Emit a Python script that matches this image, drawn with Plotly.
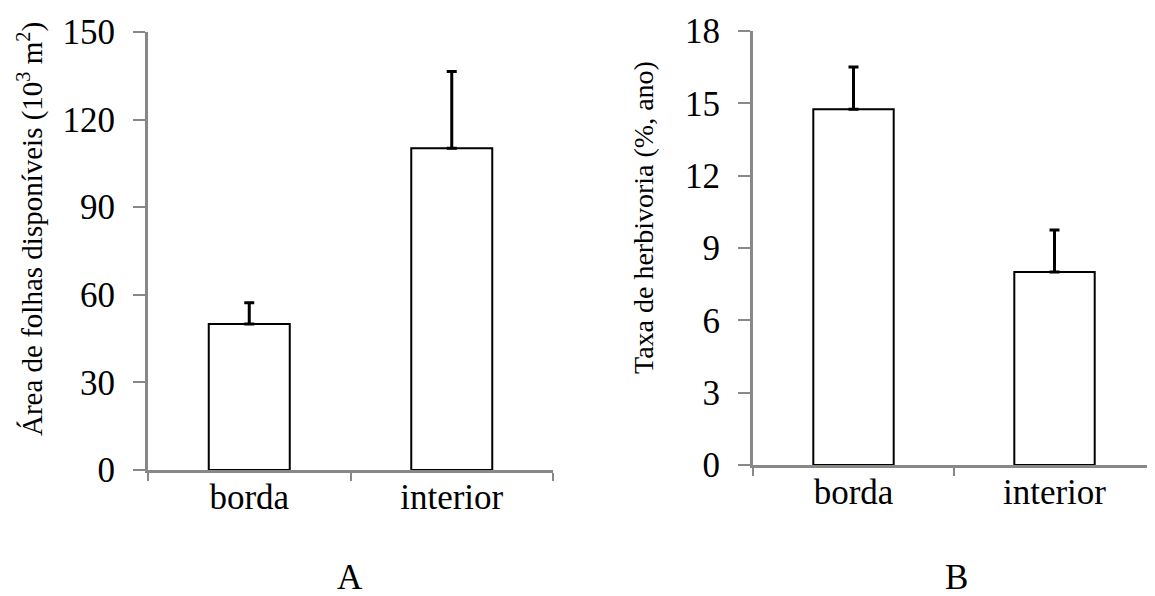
import plotly.graph_objects as go

categories = ["borda", "interior"]
area_values = [50.0, 110.2]
area_errors = [7.3, 26.3]
herb_values = [14.75, 8.0]
herb_errors = [1.76, 1.75]
area_ticks = [0, 30, 60, 90, 120, 150]
herb_ticks = [0, 3, 6, 9, 12, 15, 18]

FONT = "Liberation Serif"
GRAY = "#888888"
W, H = 1155, 596
OFF = 8  # page body margin


def px(sx):
    return (sx - OFF) / W


def py(sy):
    return (H - (sy - OFF)) / H


fig = go.Figure()
fig.add_trace(go.Bar(
    x=categories, y=area_values, width=0.4,
    marker=dict(color="white", line=dict(color="black", width=2)),
    error_y=dict(type="data", array=area_errors, arrayminus=[0, 0],
                 color="black", thickness=3, width=5),
    xaxis="x", yaxis="y", showlegend=False))
fig.add_trace(go.Bar(
    x=categories, y=herb_values, width=0.4,
    marker=dict(color="white", line=dict(color="black", width=2)),
    error_y=dict(type="data", array=herb_errors, arrayminus=[0, 0],
                 color="black", thickness=3, width=5),
    xaxis="x2", yaxis="y2", showlegend=False))


def xax(domain, anchor):
    return dict(domain=domain, anchor=anchor, type="category", automargin=False,
                showline=True, linecolor=GRAY, linewidth=3,
                ticks="outside", tickson="boundaries", ticklen=8, tickwidth=2,
                tickcolor=GRAY, showgrid=False, zeroline=False,
                tickfont=dict(family=FONT, size=35, color="black"),
                ticklabelstandoff=-6)


def yax(domain, anchor, rng, ticks):
    return dict(domain=domain, anchor=anchor, range=rng, automargin=False,
                tickvals=ticks, ticktext=[str(t) for t in ticks],
                showline=True, linecolor=GRAY, linewidth=3,
                ticks="outside", ticklen=12, tickwidth=2, tickcolor=GRAY,
                showgrid=False, zeroline=False,
                tickfont=dict(family=FONT, size=35, color="black"),
                ticklabelstandoff=11)


fig.update_layout(
    width=W, height=H, autosize=False,
    margin=dict(l=0, r=0, t=0, b=0, pad=0),
    paper_bgcolor="white", plot_bgcolor="white",
    bargap=0.6,
    xaxis=xax([px(148), px(553)], "y"),
    yaxis=yax([py(470), py(32)], "x", [0, 150], area_ticks),
    xaxis2=xax([px(753), px(1155)], "y2"),
    yaxis2=yax([py(465), py(31)], "x2", [0, 18], herb_ticks),
    annotations=[
        dict(text="Área de folhas disponíveis (10<sup>3</sup> m<sup>2</sup>)",
             x=px(30), y=py(229), xref="paper", yref="paper",
             textangle=-90, showarrow=False,
             font=dict(family=FONT, size=29, color="black"),
             xanchor="center", yanchor="middle"),
        dict(text="Taxa de herbivoria (%, ano)",
             x=px(643), y=py(218), xref="paper", yref="paper",
             textangle=-90, showarrow=False,
             font=dict(family=FONT, size=28, color="black"),
             xanchor="center", yanchor="middle"),
        dict(text="A", x=px(350), y=py(577), xref="paper", yref="paper",
             showarrow=False, font=dict(family=FONT, size=35, color="black"),
             xanchor="center", yanchor="middle"),
        dict(text="B", x=px(956), y=py(577), xref="paper", yref="paper",
             showarrow=False, font=dict(family=FONT, size=35, color="black"),
             xanchor="center", yanchor="middle"),
    ],
)

fig.write_html("out.html")
